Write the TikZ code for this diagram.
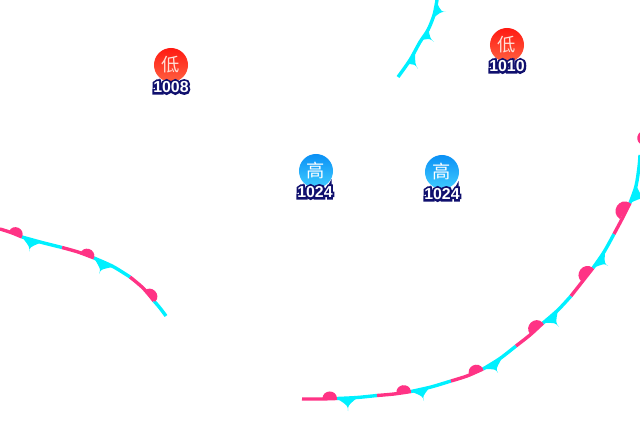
\documentclass[tikz,border=0pt]{standalone}
\usepackage{fontspec}
\setmainfont{Liberation Sans}
\newfontfamily\cjk{Noto Sans CJK SC}
\newfontfamily\numfat[FakeBold=28]{Liberation Sans}
\usetikzlibrary{calc}

\tikzset{
    warmline/.style={draw=warmc, line width=2.4pt},
    coldline/.style={draw=coldc, line width=2.4pt},
    lowmark/.style={circle, inner sep=0pt, minimum size=0.85cm, top color=lowtop, bottom color=lowbot, text=lowtxt, font=\cjk\fontsize{13}{14}\selectfont},
    highmark/.style={circle, inner sep=0pt, minimum size=0.85cm, top color=hightop, bottom color=highbot, text=white, font=\cjk\fontsize{13}{14}\selectfont},
    numback/.style={inner sep=0pt, text=navyc, font=\numfat\fontsize{11.3}{12}\selectfont},
    numtext/.style={inner sep=0pt, text=white, font=\bfseries\fontsize{11.3}{12}\selectfont}
}
\definecolor{warmc}{HTML}{FF3385}
\definecolor{coldc}{HTML}{00F0FF}
\definecolor{navyc}{HTML}{10106E}
\definecolor{lowtop}{HTML}{FF1A12}
\definecolor{lowbot}{HTML}{FF6040}
\definecolor{lowtxt}{HTML}{FFE0D8}
\definecolor{hightop}{HTML}{0A90F5}
\definecolor{highbot}{HTML}{40CCFF}

% half disc on the front, from a to b
\newcommand{\warmbump}[2]{\fill[warmc] (#1) .. controls ($(#1)!.667!90:(#2)$) and ($(#2)!.667!-90:(#1)$) .. (#2) -- cycle;}
% curved fin on the front
\newcommand{\coldfin}[3]{\fill[coldc] (#1) .. controls ($($(#1)!.5!(#3)$)!.6!(#2)$) .. (#2) .. controls ($($(#1)!.5!(#3)$)!.6!(#2)$) .. (#3) -- cycle;}
% outlined pressure number
\newcommand{\pressnum}[3]{
    \node[numback] (#1back) at (#2) {#3};
    \node[numtext] (#1) at (#2) {#3};
}

\begin{document}
\begin{tikzpicture}[x=0.025cm, y=-0.025cm]

\clip (0,0) rectangle (640,440);

% Lows
\node[lowmark] (lowa) at (171,65) {低};
\pressnum{numa}{171,87}{1008}
\node[lowmark] (lowb) at (507,45) {低};
\pressnum{numb}{507,66}{1010}

% Highs
\node[highmark] (higha) at (316,171) {高};
\pressnum{numc}{315,192}{1024}
\node[highmark] (highb) at (442,172) {高};
\pressnum{numd}{442,194}{1024}

% Left front
\draw[warmline] plot[smooth] coordinates {(0,229) (11,232.5) (22,237)};
\draw[coldline] plot[smooth] coordinates {(22,237) (42,242.5) (62,247.5)};
\draw[warmline] plot[smooth] coordinates {(62,247.5) (78,252) (94,258)};
\draw[coldline] plot[smooth] coordinates {(94,258) (113,266.5) (130,277)};
\draw[warmline] plot[smooth] coordinates {(130,277) (143,288) (154,301)};
\draw[coldline] plot[smooth] coordinates {(154,301) (160,308) (166,316)};
\warmbump{9,231.5}{22,237}
\warmbump{80,254}{94,258}
\warmbump{144,291}{155,302}
\coldfin{22,237}{29,252}{40,243}
\coldfin{94,258}{99,274}{113,267}

% Top front
\draw[coldline] plot[smooth] coordinates {(398,77) (410,60) (420,42) (428,30) (434,15) (437,0)};
\coldfin{407,64}{418,69}{415,51}
\coldfin{421,40}{434,42}{428,27}
\coldfin{432,19}{446,12}{437,3}

% Right front
\draw[warmline] plot[smooth] coordinates {(302,399) (320,399) (337,398.5)};
\draw[coldline] plot[smooth] coordinates {(337,398.5) (357,397.5) (377,395.5)};
\draw[warmline] plot[smooth] coordinates {(377,395.5) (394,394) (411,391.5)};
\draw[coldline] plot[smooth] coordinates {(411,391.5) (431,387) (451,381)};
\draw[warmline] plot[smooth] coordinates {(451,381) (467,376) (483,369)};
\draw[coldline] plot[smooth] coordinates {(483,369) (500,358.5) (516,346)};
\draw[warmline] plot[smooth] coordinates {(516,346) (530,335) (543,323)};
\draw[coldline] plot[smooth] coordinates {(543,323) (558,310) (571,296)};
\draw[warmline] plot[smooth] coordinates {(571,296) (582,282) (593,268)};
\draw[coldline] plot[smooth] coordinates {(593,268) (604,252) (614,234)};
\draw[warmline] plot[smooth] coordinates {(614,234) (622,219) (630,203)};
\draw[coldline] plot[smooth] coordinates {(630,203) (636,186) (639,167) (640,155)};
\warmbump{322.5,399}{337,398.5}
\warmbump{396.5,393.5}{411,391.5}
\warmbump{469.5,375.5}{483,369}
\warmbump{530.5,334.5}{543,323}
\warmbump{582,282}{593,268}
\warmbump{620,219}{630,203}
\warmbump{643,145}{646,131}
\coldfin{337,398.5}{348,411}{358,397}
\coldfin{411,391.5}{424,401}{430,387}
\coldfin{483,369}{498,373}{502,358}
\coldfin{543,323}{559,327}{558,310}
\coldfin{593,268}{608,266}{605,251}
\coldfin{630,203}{648,200}{636,185}

\end{tikzpicture}
\end{document}
